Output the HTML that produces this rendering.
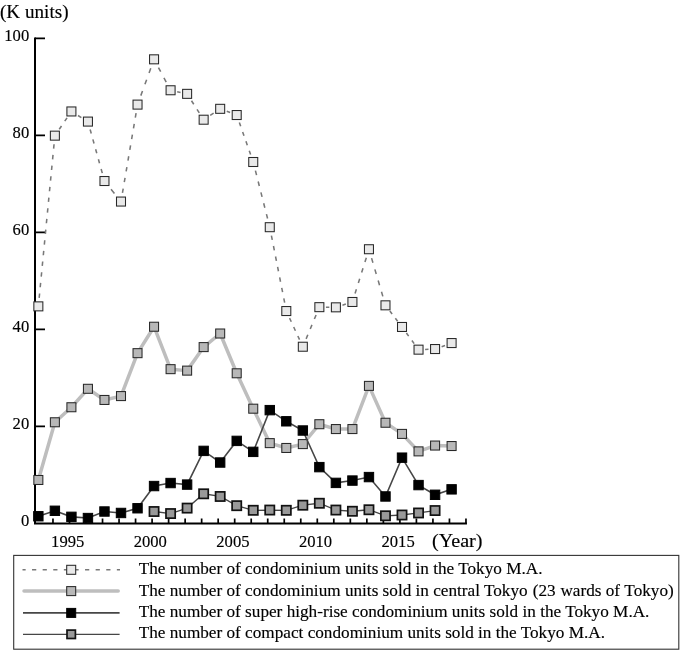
<!DOCTYPE html>
<html lang="en">
<head>
<meta charset="utf-8">
<title>Condominium units sold in the Tokyo M.A.</title>
<style>
html,body{margin:0;padding:0;background:#fff;}
body{width:681px;height:650px;overflow:hidden;}
svg{display:block;}
text{font-family:"Liberation Serif",serif;fill:#000;stroke:#000;stroke-width:0.15px;}
.tick{font-size:17.6px;}
.big{font-size:19px;}
.leg{font-size:17.2px;}
.m1{fill:#e9e9e9;stroke:#282828;stroke-width:1.05;}
.m2{fill:#b8b8b8;stroke:#282828;stroke-width:1.05;}
.m3{fill:#000;stroke:#000;stroke-width:1;}
.m4{fill:#999;stroke:#111;stroke-width:1.7;}
.l1{fill:none;stroke:#787878;stroke-width:1.55;}
.l2{fill:none;stroke:#bebebe;stroke-width:3.5;stroke-linejoin:round;stroke-linecap:round;}
.l3{fill:none;stroke:#464646;stroke-width:1.6;}
.l4{fill:none;stroke:#464646;stroke-width:1.3;}
.ax{stroke:#000;fill:none;}
</style>
</head>
<body>
<svg width="681" height="650" viewBox="0 0 681 650">
<rect x="0" y="0" width="681" height="650" fill="#fff"/>

<text class="big" x="0" y="17.7" textLength="68.5" lengthAdjust="spacingAndGlyphs">(K units)</text>
<text class="tick" x="29.2" y="41.20" text-anchor="end" textLength="24.9" lengthAdjust="spacingAndGlyphs">100</text>
<text class="tick" x="29.2" y="138.20" text-anchor="end" textLength="16.6" lengthAdjust="spacingAndGlyphs">80</text>
<text class="tick" x="29.2" y="235.20" text-anchor="end" textLength="16.6" lengthAdjust="spacingAndGlyphs">60</text>
<text class="tick" x="29.2" y="332.20" text-anchor="end" textLength="16.6" lengthAdjust="spacingAndGlyphs">40</text>
<text class="tick" x="29.2" y="429.20" text-anchor="end" textLength="16.6" lengthAdjust="spacingAndGlyphs">20</text>
<text class="tick" x="29.2" y="526.20" text-anchor="end" textLength="8.3" lengthAdjust="spacingAndGlyphs">0</text>
<text class="tick" x="67.69" y="547.1" text-anchor="middle" textLength="33.2" lengthAdjust="spacingAndGlyphs">1995</text>
<text class="tick" x="150.29" y="547.1" text-anchor="middle" textLength="33.2" lengthAdjust="spacingAndGlyphs">2000</text>
<text class="tick" x="232.89" y="547.1" text-anchor="middle" textLength="33.2" lengthAdjust="spacingAndGlyphs">2005</text>
<text class="tick" x="315.49" y="547.1" text-anchor="middle" textLength="33.2" lengthAdjust="spacingAndGlyphs">2010</text>
<text class="tick" x="398.09" y="547.1" text-anchor="middle" textLength="33.2" lengthAdjust="spacingAndGlyphs">2015</text>
<text class="big" x="432" y="546.8" textLength="50.5" lengthAdjust="spacingAndGlyphs">(Year)</text>
<path class="ax" stroke-width="2" d="M35 37.45 V524.40 M34 523.40 H466.95"/>
<path class="ax" stroke-width="1.7" d="M35 38.30 H45 M35 135.30 H45 M35 232.30 H45 M35 329.30 H45 M35 426.30 H45 M52.97 523.40 V518.40 M69.49 523.40 V518.40 M86.01 523.40 V518.40 M102.53 523.40 V518.40 M119.05 523.40 V518.40 M135.57 523.40 V518.40 M152.09 523.40 V518.40 M168.61 523.40 V518.40 M185.13 523.40 V518.40 M201.65 523.40 V518.40 M218.17 523.40 V518.40 M234.69 523.40 V518.40 M251.21 523.40 V518.40 M267.73 523.40 V518.40 M284.25 523.40 V518.40 M300.77 523.40 V518.40 M317.29 523.40 V518.40 M333.81 523.40 V518.40 M350.33 523.40 V518.40 M366.85 523.40 V518.40 M383.37 523.40 V518.40 M399.89 523.40 V518.40 M416.41 523.40 V518.40 M432.93 523.40 V518.40 M449.45 523.40 V518.40 M465.97 523.40 V518.40"/>
<line class="l1" x1="38.35" y1="306.36" x2="54.88" y2="135.65" stroke-dasharray="4.39 6.32" stroke-dashoffset="2.20"/>
<line class="l1" x1="54.88" y1="135.65" x2="71.41" y2="111.46" stroke-dasharray="4.00 5.76" stroke-dashoffset="2.00"/>
<line class="l1" x1="71.41" y1="111.46" x2="87.94" y2="121.59" stroke-dasharray="3.98 5.72" stroke-dashoffset="1.99"/>
<line class="l1" x1="87.94" y1="121.59" x2="104.47" y2="181.02" stroke-dasharray="4.21 6.07" stroke-dashoffset="2.11"/>
<line class="l1" x1="104.47" y1="181.02" x2="121.00" y2="201.56" stroke-dasharray="5.40 7.78" stroke-dashoffset="2.70"/>
<line class="l1" x1="121.00" y1="201.56" x2="137.53" y2="104.61" stroke-dasharray="4.48 6.45" stroke-dashoffset="2.24"/>
<line class="l1" x1="137.53" y1="104.61" x2="154.06" y2="59.32" stroke-dasharray="4.94 7.11" stroke-dashoffset="2.47"/>
<line class="l1" x1="154.06" y1="59.32" x2="170.59" y2="90.26" stroke-dasharray="4.79 6.90" stroke-dashoffset="2.40"/>
<line class="l1" x1="170.59" y1="90.26" x2="187.12" y2="93.85" stroke-dasharray="3.47 4.99" stroke-dashoffset="1.73"/>
<line class="l1" x1="187.12" y1="93.85" x2="203.65" y2="119.71" stroke-dasharray="4.20 6.04" stroke-dashoffset="2.10"/>
<line class="l1" x1="203.65" y1="119.71" x2="220.18" y2="108.82" stroke-dasharray="4.06 5.84" stroke-dashoffset="2.03"/>
<line class="l1" x1="220.18" y1="108.82" x2="236.71" y2="115.03" stroke-dasharray="3.62 5.21" stroke-dashoffset="1.81"/>
<line class="l1" x1="236.71" y1="115.03" x2="253.24" y2="162.00" stroke-dasharray="4.08 5.88" stroke-dashoffset="2.04"/>
<line class="l1" x1="253.24" y1="162.00" x2="269.77" y2="227.20" stroke-dasharray="4.60 6.61" stroke-dashoffset="2.30"/>
<line class="l1" x1="269.77" y1="227.20" x2="286.30" y2="311.04" stroke-dasharray="4.38 6.30" stroke-dashoffset="2.19"/>
<line class="l1" x1="286.30" y1="311.04" x2="302.83" y2="346.73" stroke-dasharray="4.03 5.80" stroke-dashoffset="2.02"/>
<line class="l1" x1="302.83" y1="346.73" x2="319.36" y2="307.16" stroke-dasharray="4.40 6.33" stroke-dashoffset="2.20"/>
<line class="l1" x1="319.36" y1="307.16" x2="335.89" y2="307.33" stroke-dasharray="3.39 4.88" stroke-dashoffset="1.69"/>
<line class="l1" x1="335.89" y1="307.33" x2="352.42" y2="301.98" stroke-dasharray="3.56 5.13" stroke-dashoffset="1.78"/>
<line class="l1" x1="352.42" y1="301.98" x2="368.95" y2="249.23" stroke-dasharray="4.53 6.52" stroke-dashoffset="2.27"/>
<line class="l1" x1="368.95" y1="249.23" x2="385.48" y2="305.32" stroke-dasharray="4.79 6.90" stroke-dashoffset="2.40"/>
<line class="l1" x1="385.48" y1="305.32" x2="402.01" y2="326.97" stroke-dasharray="3.72 5.36" stroke-dashoffset="1.86"/>
<line class="l1" x1="402.01" y1="326.97" x2="418.54" y2="349.66" stroke-dasharray="3.84 5.52" stroke-dashoffset="1.92"/>
<line class="l1" x1="418.54" y1="349.66" x2="435.07" y2="349.04" stroke-dasharray="3.39 4.88" stroke-dashoffset="1.70"/>
<line class="l1" x1="435.07" y1="349.04" x2="451.60" y2="343.06" stroke-dasharray="3.60 5.19" stroke-dashoffset="1.80"/>
<rect class="m1" x="33.85" y="301.86" width="9.0" height="9.0"/>
<rect class="m1" x="50.38" y="131.15" width="9.0" height="9.0"/>
<rect class="m1" x="66.91" y="106.96" width="9.0" height="9.0"/>
<rect class="m1" x="83.44" y="117.09" width="9.0" height="9.0"/>
<rect class="m1" x="99.97" y="176.52" width="9.0" height="9.0"/>
<rect class="m1" x="116.50" y="197.06" width="9.0" height="9.0"/>
<rect class="m1" x="133.03" y="100.11" width="9.0" height="9.0"/>
<rect class="m1" x="149.56" y="54.82" width="9.0" height="9.0"/>
<rect class="m1" x="166.09" y="85.76" width="9.0" height="9.0"/>
<rect class="m1" x="182.62" y="89.35" width="9.0" height="9.0"/>
<rect class="m1" x="199.15" y="115.21" width="9.0" height="9.0"/>
<rect class="m1" x="215.68" y="104.32" width="9.0" height="9.0"/>
<rect class="m1" x="232.21" y="110.53" width="9.0" height="9.0"/>
<rect class="m1" x="248.74" y="157.50" width="9.0" height="9.0"/>
<rect class="m1" x="265.27" y="222.70" width="9.0" height="9.0"/>
<rect class="m1" x="281.80" y="306.54" width="9.0" height="9.0"/>
<rect class="m1" x="298.33" y="342.23" width="9.0" height="9.0"/>
<rect class="m1" x="314.86" y="302.66" width="9.0" height="9.0"/>
<rect class="m1" x="331.39" y="302.83" width="9.0" height="9.0"/>
<rect class="m1" x="347.92" y="297.48" width="9.0" height="9.0"/>
<rect class="m1" x="364.45" y="244.73" width="9.0" height="9.0"/>
<rect class="m1" x="380.98" y="300.82" width="9.0" height="9.0"/>
<rect class="m1" x="397.51" y="322.47" width="9.0" height="9.0"/>
<rect class="m1" x="414.04" y="345.16" width="9.0" height="9.0"/>
<rect class="m1" x="430.57" y="344.54" width="9.0" height="9.0"/>
<rect class="m1" x="447.10" y="338.56" width="9.0" height="9.0"/>
<polyline class="l2" points="38.35,479.98 54.88,422.27 71.41,407.24 87.94,388.80 104.47,399.96 121.00,396.08 137.53,353.16 154.06,326.73 170.59,369.16 187.12,370.62 203.65,347.10 220.18,333.51 236.71,373.28 253.24,408.69 269.77,443.12 286.30,447.97 302.83,444.09 319.36,424.21 335.89,429.06 352.42,429.06 368.95,385.89 385.48,422.75 402.01,433.91 418.54,451.37 435.07,445.55 451.60,446.03"/>
<rect class="m2" x="33.85" y="475.48" width="9.0" height="9.0"/>
<rect class="m2" x="50.38" y="417.77" width="9.0" height="9.0"/>
<rect class="m2" x="66.91" y="402.74" width="9.0" height="9.0"/>
<rect class="m2" x="83.44" y="384.30" width="9.0" height="9.0"/>
<rect class="m2" x="99.97" y="395.46" width="9.0" height="9.0"/>
<rect class="m2" x="116.50" y="391.58" width="9.0" height="9.0"/>
<rect class="m2" x="133.03" y="348.66" width="9.0" height="9.0"/>
<rect class="m2" x="149.56" y="322.23" width="9.0" height="9.0"/>
<rect class="m2" x="166.09" y="364.66" width="9.0" height="9.0"/>
<rect class="m2" x="182.62" y="366.12" width="9.0" height="9.0"/>
<rect class="m2" x="199.15" y="342.60" width="9.0" height="9.0"/>
<rect class="m2" x="215.68" y="329.01" width="9.0" height="9.0"/>
<rect class="m2" x="232.21" y="368.78" width="9.0" height="9.0"/>
<rect class="m2" x="248.74" y="404.19" width="9.0" height="9.0"/>
<rect class="m2" x="265.27" y="438.62" width="9.0" height="9.0"/>
<rect class="m2" x="281.80" y="443.47" width="9.0" height="9.0"/>
<rect class="m2" x="298.33" y="439.59" width="9.0" height="9.0"/>
<rect class="m2" x="314.86" y="419.71" width="9.0" height="9.0"/>
<rect class="m2" x="331.39" y="424.56" width="9.0" height="9.0"/>
<rect class="m2" x="347.92" y="424.56" width="9.0" height="9.0"/>
<rect class="m2" x="364.45" y="381.39" width="9.0" height="9.0"/>
<rect class="m2" x="380.98" y="418.25" width="9.0" height="9.0"/>
<rect class="m2" x="397.51" y="429.41" width="9.0" height="9.0"/>
<rect class="m2" x="414.04" y="446.87" width="9.0" height="9.0"/>
<rect class="m2" x="430.57" y="441.05" width="9.0" height="9.0"/>
<rect class="m2" x="447.10" y="441.53" width="9.0" height="9.0"/>
<polyline class="l3" points="38.35,516.26 54.88,510.78 71.41,516.85 87.94,518.06 104.47,511.51 121.00,512.97 137.53,508.26 154.06,486.05 170.59,483.04 187.12,484.59 203.65,450.88 220.18,462.52 236.71,440.89 253.24,451.86 269.77,410.14 286.30,421.30 302.83,430.51 319.36,467.13 335.89,482.89 352.42,480.57 368.95,477.07 385.48,496.47 402.01,457.67 418.54,485.08 435.07,494.78 451.60,489.35"/>
<rect class="m3" x="33.65" y="511.56" width="9.4" height="9.4"/>
<rect class="m3" x="50.18" y="506.08" width="9.4" height="9.4"/>
<rect class="m3" x="66.71" y="512.14" width="9.4" height="9.4"/>
<rect class="m3" x="83.24" y="513.36" width="9.4" height="9.4"/>
<rect class="m3" x="99.77" y="506.81" width="9.4" height="9.4"/>
<rect class="m3" x="116.30" y="508.27" width="9.4" height="9.4"/>
<rect class="m3" x="132.83" y="503.56" width="9.4" height="9.4"/>
<rect class="m3" x="149.36" y="481.35" width="9.4" height="9.4"/>
<rect class="m3" x="165.89" y="478.34" width="9.4" height="9.4"/>
<rect class="m3" x="182.42" y="479.89" width="9.4" height="9.4"/>
<rect class="m3" x="198.95" y="446.19" width="9.4" height="9.4"/>
<rect class="m3" x="215.48" y="457.82" width="9.4" height="9.4"/>
<rect class="m3" x="232.01" y="436.19" width="9.4" height="9.4"/>
<rect class="m3" x="248.54" y="447.16" width="9.4" height="9.4"/>
<rect class="m3" x="265.07" y="405.44" width="9.4" height="9.4"/>
<rect class="m3" x="281.60" y="416.60" width="9.4" height="9.4"/>
<rect class="m3" x="298.13" y="425.81" width="9.4" height="9.4"/>
<rect class="m3" x="314.66" y="462.43" width="9.4" height="9.4"/>
<rect class="m3" x="331.19" y="478.19" width="9.4" height="9.4"/>
<rect class="m3" x="347.72" y="475.87" width="9.4" height="9.4"/>
<rect class="m3" x="364.25" y="472.38" width="9.4" height="9.4"/>
<rect class="m3" x="380.78" y="491.77" width="9.4" height="9.4"/>
<rect class="m3" x="397.31" y="452.97" width="9.4" height="9.4"/>
<rect class="m3" x="413.84" y="480.38" width="9.4" height="9.4"/>
<rect class="m3" x="430.37" y="490.08" width="9.4" height="9.4"/>
<rect class="m3" x="446.90" y="484.65" width="9.4" height="9.4"/>
<polyline class="l4" points="154.06,511.51 170.59,513.55 187.12,508.11 203.65,493.81 220.18,496.47 236.71,505.69 253.24,510.30 269.77,510.05 286.30,510.30 302.83,505.20 319.36,503.26 335.89,510.05 352.42,511.27 368.95,509.76 385.48,515.78 402.01,515.00 418.54,512.97 435.07,510.54"/>
<rect class="m4" x="149.46" y="506.91" width="9.2" height="9.2"/>
<rect class="m4" x="165.99" y="508.95" width="9.2" height="9.2"/>
<rect class="m4" x="182.52" y="503.51" width="9.2" height="9.2"/>
<rect class="m4" x="199.05" y="489.21" width="9.2" height="9.2"/>
<rect class="m4" x="215.58" y="491.87" width="9.2" height="9.2"/>
<rect class="m4" x="232.11" y="501.09" width="9.2" height="9.2"/>
<rect class="m4" x="248.64" y="505.70" width="9.2" height="9.2"/>
<rect class="m4" x="265.17" y="505.45" width="9.2" height="9.2"/>
<rect class="m4" x="281.70" y="505.70" width="9.2" height="9.2"/>
<rect class="m4" x="298.23" y="500.60" width="9.2" height="9.2"/>
<rect class="m4" x="314.76" y="498.66" width="9.2" height="9.2"/>
<rect class="m4" x="331.29" y="505.45" width="9.2" height="9.2"/>
<rect class="m4" x="347.82" y="506.67" width="9.2" height="9.2"/>
<rect class="m4" x="364.35" y="505.16" width="9.2" height="9.2"/>
<rect class="m4" x="380.88" y="511.18" width="9.2" height="9.2"/>
<rect class="m4" x="397.41" y="510.40" width="9.2" height="9.2"/>
<rect class="m4" x="413.94" y="508.37" width="9.2" height="9.2"/>
<rect class="m4" x="430.47" y="505.94" width="9.2" height="9.2"/>
<rect x="13.7" y="555.4" width="665.1" height="93.8" fill="#fff" stroke="#333" stroke-width="1.1"/>
<path class="l1" d="M22.5 569.8 H120" stroke-dasharray="4.2 6.4" stroke-dashoffset="1.05"/>
<rect class="m1" x="66.70" y="565.30" width="9" height="9"/>
<text class="leg" x="138.7" y="574.00">The number of condominium units sold in the Tokyo M.A.</text>
<path class="l2" d="M24 591.1 H118.2"/>
<rect class="m2" x="66.70" y="586.60" width="9" height="9"/>
<text class="leg" x="138.7" y="595.70">The number of condominium units sold in central Tokyo <tspan dx='0.8'>(23</tspan> <tspan dx='0.4'>wards</tspan> of <tspan dx='0.3'>Tokyo)</tspan></text>
<path class="l3" d="M23 612.9 H119.6"/>
<rect class="m3" x="66.70" y="608.40" width="9" height="9"/>
<text class="leg" x="138.7" y="617.00">The number of super high-rise condominium units sold in the Tokyo M.A.</text>
<path class="l4" d="M23 634.3 H119.6"/>
<rect class="m4" x="67.00" y="630.10" width="8.4" height="8.4"/>
<text class="leg" x="138.7" y="638.30">The number of compact condominium units sold in the Tokyo M.A.</text>
</svg>
</body>
</html>
